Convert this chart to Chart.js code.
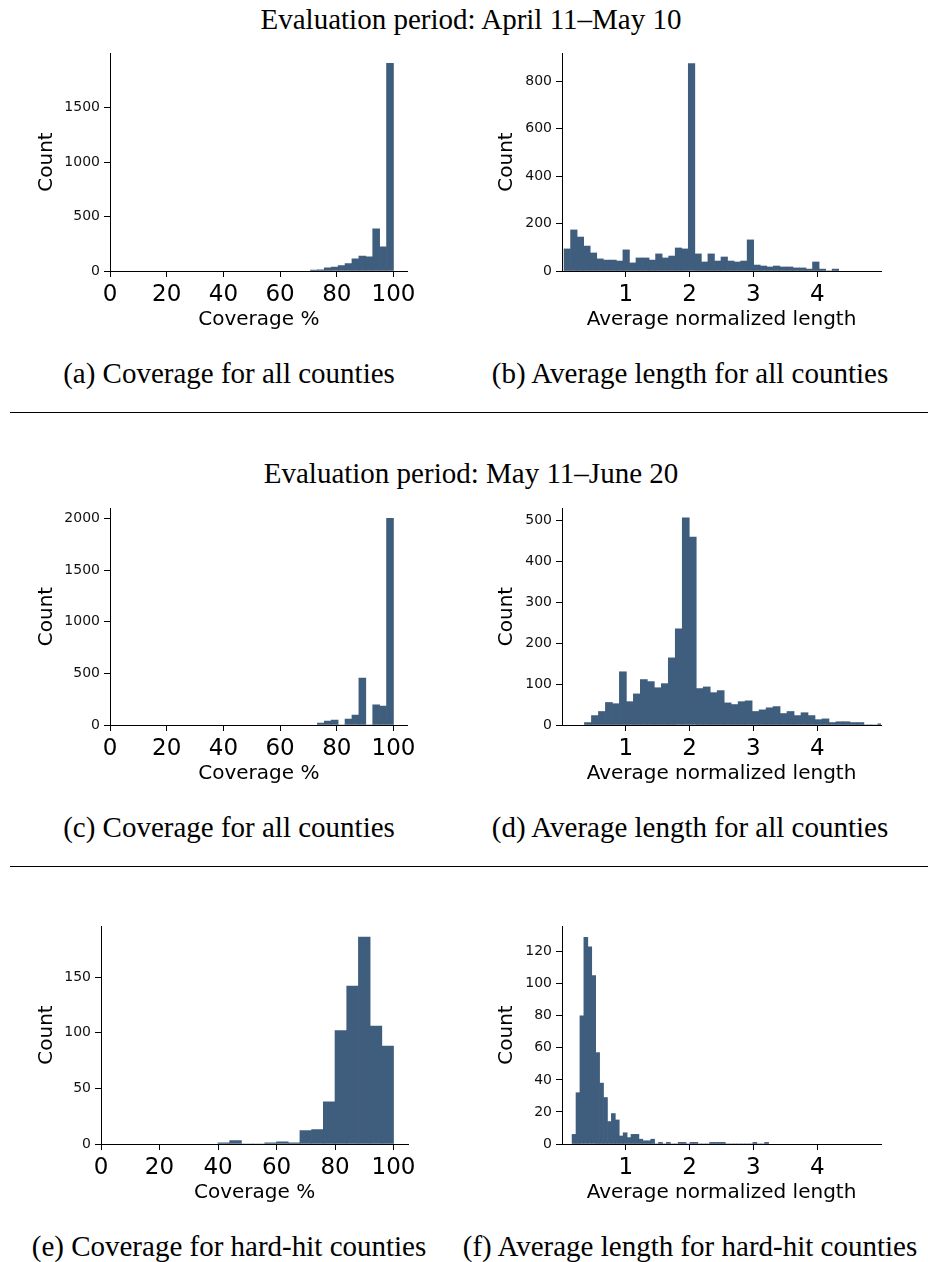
<!DOCTYPE html>
<html lang="en">
<head>
<meta charset="UTF-8">
<title>Coverage and average length histograms</title>
<script src="https://cdn.jsdelivr.net/npm/chart.js@4.4.1/dist/chart.umd.min.js"></script>
<style>
    body {
        margin: 0;
        background: #fff;
    }

    #page {
        position: relative;
        width: 928px;
        height: 1262px;
        overflow: hidden;
        background: #fff;
    }

    .section-title,
    .caption {
        position: absolute;
        font-family: "Liberation Serif", serif;
        font-size: 29px;
        line-height: 34px;
        white-space: nowrap;
        color: #000;
        transform: translateX(-50%);
    }

    .rule {
        position: absolute;
        left: 10px;
        width: 918px;
        height: 1px;
        background: #000;
    }

    canvas {
        position: absolute;
    }
</style>
</head>
<body>
<div id="page">
    <div class="section-title" style="left:471px; top:2px;">Evaluation period: April 11–May 10</div>
    <canvas id="chartA"></canvas>
    <canvas id="chartB"></canvas>
    <div class="caption" style="left:229px; top:356px;">(a) Coverage for all counties</div>
    <div class="caption" style="left:690px; top:356px;">(b) Average length for all counties</div>
    <div class="rule" style="top:412px;"></div>

    <div class="section-title" style="left:471px; top:456px;">Evaluation period: May 11–June 20</div>
    <canvas id="chartC"></canvas>
    <canvas id="chartD"></canvas>
    <div class="caption" style="left:229px; top:810px;">(c) Coverage for all counties</div>
    <div class="caption" style="left:690px; top:810px;">(d) Average length for all counties</div>
    <div class="rule" style="top:866px;"></div>

    <canvas id="chartE"></canvas>
    <canvas id="chartF"></canvas>
    <div class="caption" style="left:229px; top:1229px;">(e) Coverage for hard-hit counties</div>
    <div class="caption" style="left:690px; top:1229px;">(f) Average length for hard-hit counties</div>
</div>

<script>
    // tick labels
    const coverageTicks = [0, 20, 40, 60, 80, 100];
    const lengthTicks = [1, 2, 3, 4];

    // (a) coverage, April 11 - May 10
    const aprCoverageBins = { start: 70.7, width: 2.44 };
    const aprCoverageCounts = [9, 10, 28, 37, 49, 68, 111, 138, 129, 387, 221, 1905];
    const aprCoverageYTicks = [0, 500, 1000, 1500];

    // (b) average normalized length, April 11 - May 10
    const aprLengthBins = { start: 0.032, width: 0.1025 };
    const aprLengthCounts = [93, 173, 143, 105, 76, 51, 46, 46, 42, 89, 34, 55, 55, 46, 72, 55, 63, 97, 93, 873,
        72, 38, 72, 42, 59, 42, 38, 42, 131, 25, 21, 17, 21, 17, 17, 13, 13, 8, 38, 8, 0, 8];
    const aprLengthYTicks = [0, 200, 400, 600, 800];

    // (c) coverage, May 11 - June 20
    const mayCoverageBins = { start: 73.14, width: 2.44 };
    const mayCoverageCounts = [19, 39, 48, 0, 58, 97, 455, 0, 194, 184, 2000];
    const mayCoverageYTicks = [0, 500, 1000, 1500, 2000];

    // (d) average normalized length, May 11 - June 20
    const mayLengthBins = { start: 0.352, width: 0.1095 };
    const mayLengthCounts = [6, 23, 33, 55, 52, 130, 57, 76, 111, 106, 91, 101, 164, 235, 506, 459, 89, 93, 79, 84,
        54, 50, 57, 59, 33, 37, 42, 45, 28, 33, 23, 30, 23, 13, 15, 6, 8, 8, 6, 6, 0, 0, 3];
    const mayLengthYTicks = [0, 100, 200, 300, 400, 500];

    // (e) coverage, hard-hit counties
    const hardCoverageBins = { start: 40, width: 4 };
    const hardCoverageCounts = [1, 3, 0, 0, 1, 2, 1, 12, 13, 38, 102, 142, 186, 106, 88];
    const hardCoverageYTicks = [0, 50, 100, 150];

    // (f) average normalized length, hard-hit counties
    const hardLengthBins = { start: 0.158, width: 0.0616 };
    const hardLengthCounts = [6, 32, 80, 129, 123, 105, 57, 38, 29, 14, 19, 15, 5, 7, 4, 6, 6, 3, 2, 2,
        3, 0, 1, 0, 1, 0, 0, 1, 1, 0, 1, 1, 0, 0, 0, 1, 1, 1, 1, 0, 0, 0, 0, 0, 0, 0, 1, 0, 0, 1];
    const hardLengthYTicks = [0, 20, 40, 60, 80, 100, 120];

    const barColor = '#3F5D7D';
    const PAD_TOP = 13, PAD_RIGHT = 11, Y_AXIS_W = 90, X_AXIS_H = 69;

    function histogram(id, area, bins, counts, opts) {
        const canvas = document.getElementById(id);
        const left = area.left - Y_AXIS_W;
        const top = area.top - PAD_TOP;
        canvas.width = area.right - left + PAD_RIGHT;
        canvas.height = area.bottom - top + X_AXIS_H;
        canvas.style.left = left + 'px';
        canvas.style.top = top + 'px';

        const points = counts.map((c, i) => ({ x: bins.start + (i + 0.5) * bins.width, y: c }));

        new Chart(canvas, {
            type: 'bar',
            data: {
                datasets: [{
                    data: points,
                    backgroundColor: barColor,
                    borderWidth: 0,
                    barPercentage: 1,
                    categoryPercentage: 1,
                    clip: 0
                }]
            },
            options: {
                responsive: false,
                animation: false,
                devicePixelRatio: 1,
                layout: { padding: { top: PAD_TOP, right: PAD_RIGHT, left: 0, bottom: 0 } },
                plugins: {
                    legend: { display: false },
                    tooltip: { enabled: false }
                },
                scales: {
                    x: {
                        type: 'linear',
                        min: 0,
                        max: opts.xMax,
                        bounds: 'data',
                        offset: false,
                        afterBuildTicks: s => { s.ticks = opts.xTicks.map(v => ({ value: v })); },
                        afterFit: s => { s.height = X_AXIS_H; },
                        grid: { drawOnChartArea: false, offset: false, tickLength: 6, color: '#000' },
                        border: { color: '#000', width: 1 },
                        ticks: {
                            autoSkip: false,
                            maxRotation: 0,
                            padding: 4,
                            color: '#000',
                            font: { family: 'DejaVu Sans', size: 23 },
                            callback: v => String(v)
                        },
                        title: {
                            display: true,
                            text: opts.xTitle,
                            color: '#000',
                            font: { family: 'DejaVu Sans', size: 20, lineHeight: 1.2 },
                            padding: { top: 0, bottom: 8 }
                        }
                    },
                    y: {
                        min: 0,
                        max: opts.yMax,
                        bounds: 'data',
                        afterBuildTicks: s => { s.ticks = opts.yTicks.map(v => ({ value: v })); },
                        afterFit: s => { s.width = Y_AXIS_W; },
                        grid: { drawOnChartArea: false, tickLength: 6, color: '#000' },
                        border: { color: '#000', width: 1 },
                        ticks: {
                            padding: 4,
                            color: '#111',
                            font: { family: 'DejaVu Sans', size: 14 },
                            callback: v => String(v)
                        },
                        title: {
                            display: true,
                            text: 'Count',
                            color: '#000',
                            font: { family: 'DejaVu Sans', size: 20, lineHeight: 1.2 },
                            padding: { top: opts.yTitlePad, bottom: 0 }
                        }
                    }
                }
            }
        });
    }

    histogram('chartA', { left: 110, right: 409, top: 53, bottom: 271 }, aprCoverageBins, aprCoverageCounts,
        { xMax: 105, xTicks: coverageTicks, xTitle: 'Coverage %', yMax: 2000, yTicks: aprCoverageYTicks, yTitlePad: 15 });
    histogram('chartB', { left: 562, right: 881, top: 53, bottom: 271 }, aprLengthBins, aprLengthCounts,
        { xMax: 5, xTicks: lengthTicks, xTitle: 'Average normalized length', yMax: 918, yTicks: aprLengthYTicks, yTitlePad: 23 });
    histogram('chartC', { left: 110, right: 409, top: 508, bottom: 725 }, mayCoverageBins, mayCoverageCounts,
        { xMax: 105, xTicks: coverageTicks, xTitle: 'Coverage %', yMax: 2100, yTicks: mayCoverageYTicks, yTitlePad: 15 });
    histogram('chartD', { left: 562, right: 881, top: 508, bottom: 725 }, mayLengthBins, mayLengthCounts,
        { xMax: 5, xTicks: lengthTicks, xTitle: 'Average normalized length', yMax: 530, yTicks: mayLengthYTicks, yTitlePad: 23 });
    histogram('chartE', { left: 101, right: 409, top: 926, bottom: 1144 }, hardCoverageBins, hardCoverageCounts,
        { xMax: 105, xTicks: coverageTicks, xTitle: 'Coverage %', yMax: 196, yTicks: hardCoverageYTicks, yTitlePad: 24 });
    histogram('chartF', { left: 562, right: 881, top: 926, bottom: 1144 }, hardLengthBins, hardLengthCounts,
        { xMax: 5, xTicks: lengthTicks, xTitle: 'Average normalized length', yMax: 136, yTicks: hardLengthYTicks, yTitlePad: 23 });
</script>
</body>
</html>
